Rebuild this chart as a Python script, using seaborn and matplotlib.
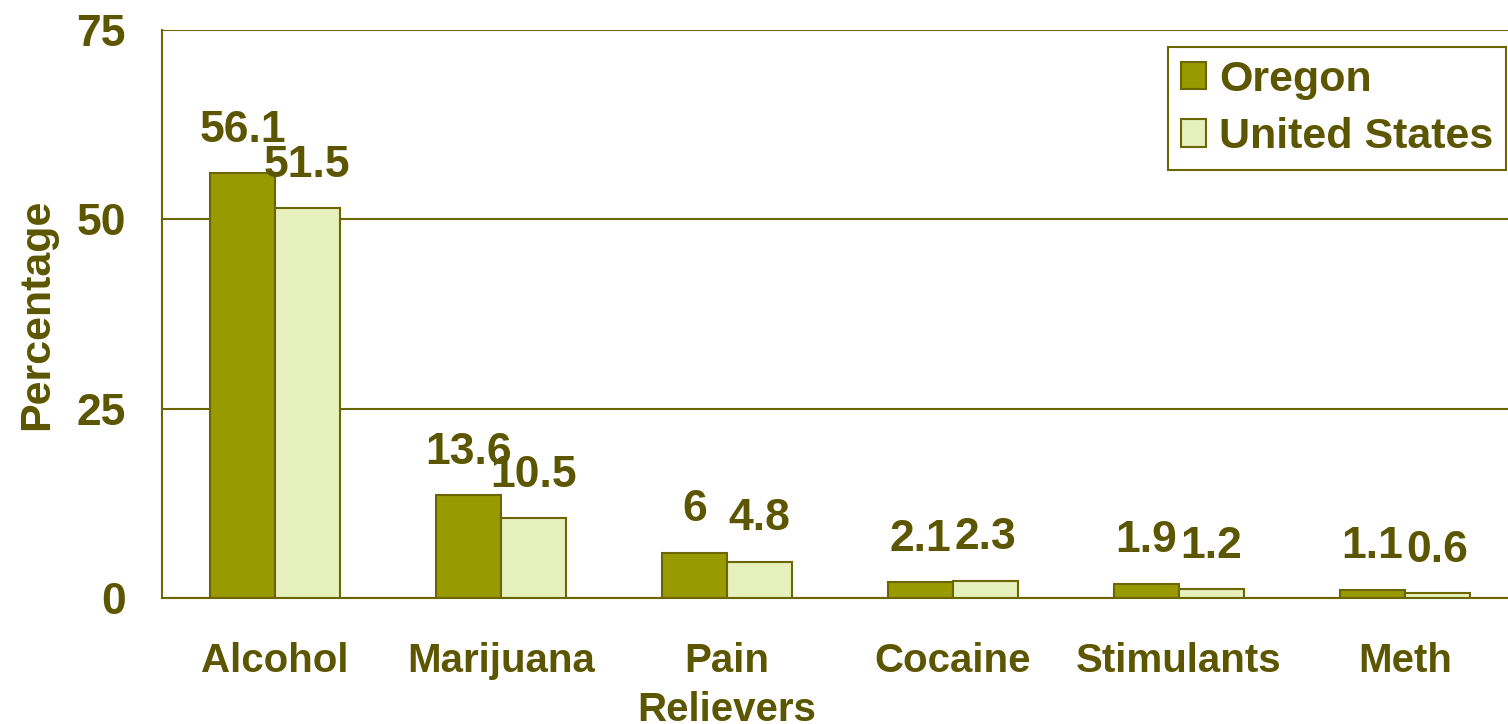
import pandas as pd
import matplotlib
matplotlib.use('Agg')
import matplotlib.pyplot as plt
import seaborn as sns
from matplotlib.ticker import FixedLocator

# Chart data
categories = ['Alcohol', 'Marijuana', 'Pain\nRelievers', 'Cocaine', 'Stimulants', 'Meth']
oregon = [56.1, 13.6, 6, 2.1, 1.9, 1.1]
united_states = [51.5, 10.5, 4.8, 2.3, 1.2, 0.6]
series_names = ['Oregon', 'United States']
y_ticks = [0, 25, 50, 75]

# Long format table for seaborn
df = pd.DataFrame({
    'category': categories * 2,
    'region': [series_names[0]] * len(categories) + [series_names[1]] * len(categories),
    'value': oregon + united_states,
})

text_color = '#5c5600'
line_color = '#6b6600'
palette = {'Oregon': '#999900', 'United States': '#e5f0bc'}

sns.set_style('white')
plt.rcParams['font.family'] = ['Liberation Sans', 'DejaVu Sans']
plt.rcParams['font.weight'] = 'bold'

fig = plt.figure(figsize=(15.08, 7.24), dpi=100)
ax = fig.add_axes([0.1074, 0.174, 0.8992, 0.7846])

sns.barplot(data=df, x='category', y='value', hue='region', palette=palette,
            saturation=1, width=0.575, edgecolor=line_color, linewidth=1.5,
            ax=ax, zorder=3)

# Value labels above each bar
for container in ax.containers:
    labels = ['%g' % v for v in container.datavalues]
    ax.bar_label(container, labels=labels, padding=16, fontsize=32,
                 fontweight='bold', color=text_color)

# Axes styling
ax.set_ylim(0, 75)
ax.set_xlim(-0.5, len(categories) - 0.5)
ax.set_yticks(y_ticks)
ax.yaxis.grid(True, color=line_color, linewidth=1.5, zorder=0)
ax.set_axisbelow(True)
for side in ['top', 'right']:
    ax.spines[side].set_visible(False)
for side in ['left', 'bottom']:
    ax.spines[side].set_color(line_color)
    ax.spines[side].set_linewidth(1.5)

ax.tick_params(axis='y', which='major', length=14, width=1.5, color=line_color,
               labelsize=32, labelcolor=text_color, pad=12)
ax.tick_params(axis='x', which='major', length=0, labelsize=29,
               labelcolor=text_color, pad=32)
ax.xaxis.set_minor_locator(FixedLocator([i - 0.5 for i in range(len(categories) + 1)]))
ax.tick_params(axis='x', which='minor', length=12, width=1.5, color=line_color)
for lbl in ax.get_xticklabels() + ax.get_yticklabels():
    lbl.set_fontweight('bold')
for lbl in ax.get_xticklabels():
    lbl.set_linespacing(1.35)

ax.set_xlabel('')
ax.set_ylabel('Percentage', fontsize=31, fontweight='bold', color=text_color, labelpad=14)

# Legend
handles, labels = ax.get_legend_handles_labels()
leg = ax.legend(handles, labels, loc='upper right', bbox_to_anchor=(0.9915, 0.97),
                fontsize=31, frameon=True, fancybox=False, framealpha=1,
                edgecolor=line_color, handlelength=0.6, handleheight=0.6,
                handletextpad=0.3, borderpad=0.3, labelspacing=0.4,
                borderaxespad=0.0)
leg.get_frame().set_linewidth(1.5)
for t in leg.get_texts():
    t.set_color(text_color)
    t.set_fontweight('bold')

fig.savefig('out.png', dpi=100)
